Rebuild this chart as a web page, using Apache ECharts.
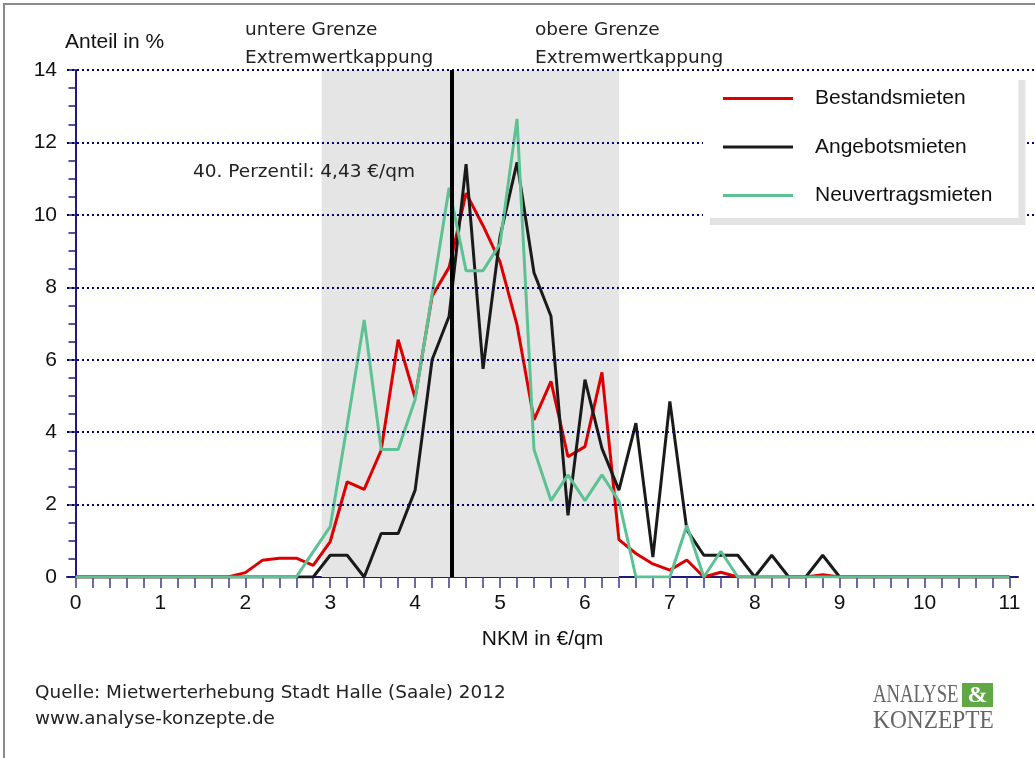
<!DOCTYPE html>
<html>
<head>
<meta charset="utf-8">
<script src="https://cdn.jsdelivr.net/npm/echarts@6/dist/echarts.min.js"></script>
<style>html,body{margin:0;padding:0;background:#fff}#c{width:1035px;height:758px}</style>
</head>
<body>
<div id="c"></div>
<script>
// NKM in €/qm (class midpoints, step 0.2)
const xValues = [0,0.2,0.4,0.6,0.8,1.0,1.2,1.4,1.6,1.8,2.0,2.2,2.4,2.6,2.8,3.0,3.2,3.4,3.6,3.8,4.0,4.2,4.4,4.6,4.8,5.0,5.2,5.4,5.6,5.8,6.0,6.2,6.4,6.6,6.8,7.0,7.2,7.4,7.6,7.8,8.0,8.2,8.4,8.6,8.8,9.0,9.2,9.4,9.6,9.8,10.0,10.2,10.4,10.6,10.8,11.0];
const bestandsmieten = [0,0,0,0,0,0,0,0,0,0,0.12,0.46,0.52,0.52,0.32,0.98,2.63,2.42,3.5,6.55,4.95,7.75,8.55,10.6,9.7,8.7,6.96,4.34,5.4,3.32,3.6,5.65,1.03,0.65,0.36,0.19,0.47,0,0.13,0,0,0,0,0,0.06,0,0,0,0,0,0,0,0,0,0,0];
const angebotsmieten = [0,0,0,0,0,0,0,0,0,0,0,0,0,0,0,0.6,0.6,0,1.2,1.2,2.4,6.0,7.2,11.4,5.75,9.4,11.45,8.4,7.2,1.7,5.45,3.55,2.4,4.25,0.55,4.85,1.3,0.6,0.6,0.6,0,0.6,0,0,0.6,0,0,0,0,0,0,0,0,0,0,0];
const neuvertragsmieten = [0,0,0,0,0,0,0,0,0,0,0,0,0,0,0.7,1.39,4.2,7.1,3.52,3.52,4.9,7.8,10.75,8.46,8.46,9.2,12.65,3.52,2.11,2.82,2.11,2.82,2.1,0,0,0,1.42,0,0.71,0,0,0,0,0,0,0,0,0,0,0,0,0,0,0,0,0];
const seriesNames = ['Bestandsmieten','Angebotsmieten','Neuvertragsmieten'];
const seriesColors = ['#dd0000','#1a1a1a','#5cc293'];
const xTickValues = xValues;
const xLabelValues = [0,1,2,3,4,5,6,7,8,9,10,11];
const yGridValues = [2,4,6,8,10,12,14];
const capLower = 2.9, capUpper = 6.4;
const perzentil40 = 4.43;

const AX = '#1c1c78';
const toPairs = arr => arr.map((v,i)=>[xValues[i], v]);

const chart = echarts.init(document.getElementById('c'), null, {renderer:'canvas'});
const sansA = 'Liberation Sans, Arial, sans-serif';
const sansT = 'DejaVu Sans, sans-serif';

chart.setOption({
  animation:false,
  backgroundColor:'#fff',
  grid:[
    {left:67, right:17, top:70, bottom:181},
    {left:67, right:0, top:70, bottom:181}
  ],
  xAxis:[
    {type:'value', gridIndex:0, min:-0.1, max:11.1,
     axisLine:{show:true, lineStyle:{color:AX, width:2}},
     axisTick:{show:true, customValues:xTickValues, length:11, lineStyle:{color:'#3b3b8a', width:1.5}},
     axisLabel:{show:true, customValues:xLabelValues, fontSize:21, fontFamily:sansA, color:'#111', margin:16},
     splitLine:{show:false},
     name:'NKM in €/qm', nameLocation:'middle', nameGap:52,
     nameTextStyle:{fontSize:21, fontFamily:sansA, color:'#111'}
    },
    {type:'value', gridIndex:1, min:-0.1, max:11.3, show:false}
  ],
  yAxis:[
    {type:'value', gridIndex:0, min:0, max:14, interval:2,
     axisLine:{show:true, lineStyle:{color:AX, width:2}},
     axisTick:{show:true, length:7, lineStyle:{color:AX, width:1.5}},
     minorTick:{show:true, splitNumber:4, length:7, lineStyle:{color:AX, width:1.5}},
     axisLabel:{fontSize:21, fontFamily:sansA, color:'#111', margin:10},
     splitLine:{show:false}
    },
    {type:'value', gridIndex:1, min:0, max:14, show:false}
  ],
  legend:{
    data:seriesNames, left:703, top:73, orient:'vertical', z:20,
    icon:'rect', itemWidth:70, itemHeight:3, itemGap:27.5,
    backgroundColor:'#fff', shadowColor:'#e3e3e3', shadowBlur:0, shadowOffsetX:7, shadowOffsetY:7,
    padding:[15,26,12,20],
    textStyle:{fontSize:21, fontFamily:sansA, color:'#111', padding:[0,0,0,17]}
  },
  series:[
    {type:'line', name:'band', xAxisIndex:1, yAxisIndex:1, data:[], z:0, silent:true,
     markArea:{silent:true, itemStyle:{color:'#e5e5e5'}, data:[[{xAxis:capLower},{xAxis:capUpper}]]}
    },
    {type:'line', name:'gitter', xAxisIndex:1, yAxisIndex:1, data:[], z:1, silent:true,
     markLine:{silent:true, symbol:['none','none'], label:{show:false},
       lineStyle:{color:'#000066', width:2, type:[2,3]}, data:yGridValues.map(v=>({yAxis:v}))}
    },
    {type:'line', name:seriesNames[0], data:toPairs(bestandsmieten), symbol:'none', z:3,
     lineStyle:{color:seriesColors[0], width:3}, itemStyle:{color:seriesColors[0]}},
    {type:'line', name:seriesNames[1], data:toPairs(angebotsmieten), symbol:'none', z:3,
     lineStyle:{color:seriesColors[1], width:3}, itemStyle:{color:seriesColors[1]}},
    {type:'line', name:seriesNames[2], data:toPairs(neuvertragsmieten), symbol:'none', z:3,
     lineStyle:{color:seriesColors[2], width:3}, itemStyle:{color:seriesColors[2]}},
    {type:'line', name:'perzentil', data:[], z:4, silent:true,
     markLine:{silent:true, symbol:['none','none'], label:{show:false},
       lineStyle:{color:'#000', width:4, type:'solid'}, data:[{xAxis:perzentil40}]}
    }
  ],
  graphic:[
    {type:'rect', z:100, shape:{x:4, y:4, width:1200, height:900}, style:{fill:'none', stroke:'#8a8a8a', lineWidth:2}, silent:true},
    {type:'text', z:100, left:65, top:32, style:{text:'Anteil in %', font:'21px '+sansA, fill:'#111'}},
    {type:'text', z:100, left:245, top:16, style:{text:'untere Grenze\nExtremwertkappung', font:'18.5px '+sansT, fill:'#222', lineHeight:28}},
    {type:'text', z:100, left:535, top:16, style:{text:'obere Grenze\nExtremwertkappung', font:'18.5px '+sansT, fill:'#222', lineHeight:28}},
    {type:'text', z:100, left:193, top:163, style:{text:'40. Perzentil: 4,43 €/qm', font:'18.5px '+sansT, fill:'#222'}},
    {type:'text', z:100, left:35, top:680, style:{text:'Quelle: Mietwerterhebung Stadt Halle (Saale) 2012\nwww.analyse-konzepte.de', font:'18.4px '+sansT, fill:'#222', lineHeight:26}},
    {type:'text', z:100, x:873, y:695, scaleX:0.72, style:{text:'ANALYSE', font:'26px Liberation Serif, serif', fill:'#666', verticalAlign:'middle'}},
    {type:'rect', z:100, shape:{x:962, y:683, width:31, height:24}, style:{fill:'#5fa845'}},
    {type:'text', z:101, x:977.5, y:696, style:{text:'&', font:'bold 24px Liberation Serif, serif', fill:'#fff', align:'center', verticalAlign:'middle'}},
    {type:'text', z:100, x:873, y:721, scaleX:0.9, style:{text:'KONZEPTE', font:'26px Liberation Serif, serif', fill:'#666', verticalAlign:'middle'}}
  ]
});
</script>
</body>
</html>
